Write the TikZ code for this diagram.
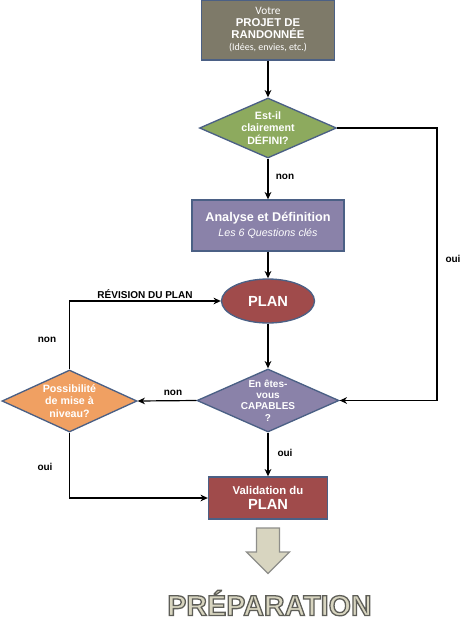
\documentclass[tikz,border=0pt]{standalone}
\usepackage{fontspec}
\setmainfont{Liberation Sans}
\newfontfamily\calibfont{Carlito}
\newfontfamily\prepfont[BoldFeatures={FakeBold=4.5}]{Liberation Sans}
\usetikzlibrary{shapes.geometric,arrows.meta}

\definecolor{projgray}{HTML}{7E7A69}
\definecolor{shapeedge}{HTML}{4B6085}
\definecolor{qgreen}{HTML}{8DAA5E}
\definecolor{qpurple}{HTML}{8A82A9}
\definecolor{planred}{HTML}{A04B4B}
\definecolor{qorange}{HTML}{F0A062}
\definecolor{prepbeige}{HTML}{D8D5C0}
\definecolor{prepedge}{HTML}{5E5E58}

\tikzset{every picture/.style={line width=0.75pt}}
\tikzset{
	block/.style={draw=shapeedge, line width=1pt, text=white, align=center, inner sep=0pt},
	decision/.style={diamond, draw=shapeedge, line width=1pt, inner sep=0pt},
	dectext/.style={text=white, align=center, font=\bfseries\fontsize{8}{9.3}\selectfont, inner sep=0pt},
	flow/.style={draw=black, line width=0.9pt, -{Stealth[length=5.5pt,width=5pt]}},
	lbl/.style={font=\bfseries\fontsize{7.5}{9}\selectfont, inner sep=0pt}
}

\begin{document}
\begin{tikzpicture}[x=0.75pt,y=0.75pt,yscale=-1,xscale=1]
	\useasboundingbox (0,0) rectangle (474,637);

	% Projet de randonnee
	\node[block, fill=projgray, minimum width=100pt, minimum height=45pt, font=\bfseries\fontsize{8.5}{9}\selectfont] (projet) at (268,30) {{\calibfont\mdseries\fontsize{8.5}{9}\selectfont Votre}\\PROJET DE\\RANDONNÉE\\{\calibfont\mdseries\fontsize{7.5}{9}\selectfont (Idées, envies, etc.)}};

	% Est-il defini
	\node[decision, fill=qgreen, minimum width=102.75pt, minimum height=45pt] (defini) at (268,128) {};
	\node[dectext] (definiT) at (defini) {Est-il\\clairement\\DÉFINI?};

	% Analyse
	\node[block, fill=qpurple, minimum width=114pt, minimum height=38.25pt, font=\bfseries\fontsize{9.5}{11}\selectfont] (analyse) at (268,225.5) {Analyse et Définition\\{\mdseries\itshape\fontsize{8}{11}\selectfont Les 6 Questions clés}};

	% Plan
	\node[ellipse, draw=shapeedge, line width=1pt, fill=planred, text=white, minimum width=69.75pt, minimum height=33pt, inner sep=0pt, font=\bfseries\fontsize{11}{12}\selectfont] (plan) at (268,301) {PLAN};

	% Capables
	\node[decision, fill=qpurple, minimum width=106.5pt, minimum height=47.25pt] (capable) at (268,400.5) {};
	\node[dectext, font=\bfseries\fontsize{7.5}{8.6}\selectfont] (capableT) at (capable) {En êtes-\\vous\\CAPABLES\\?};

	% Mise a niveau
	\node[decision, fill=qorange, minimum width=101.25pt, minimum height=46.5pt] (niveau) at (69.5,401) {};
	\node[dectext] (niveauT) at (niveau) {Possibilité\\de mise à\\niveau?};

	% Validation
	\node[block, fill=planred, minimum width=89.25pt, minimum height=31.5pt, font=\bfseries\fontsize{8.5}{11}\selectfont] (valid) at (268,498) {Validation du\\{\fontsize{11}{11}\selectfont PLAN}};

	% Connectors
	\draw[flow] (projet.south) -- (defini.north);
	\draw[flow] (defini.south) -- (analyse.north);
	\draw[flow] (analyse.south) -- (plan.north);
	\draw[flow] (plan.south) -- (capable.north);
	\coordinate (ouiTurn) at (437,128);
	\draw[flow] (defini.east) -- (ouiTurn) |- (capable.east);
	\draw[flow] (capable.west) -- (niveau.east);
	\draw[flow] (niveau.north) |- (plan.west);
	\draw[flow] (niveau.south) |- (valid.west);
	\draw[flow] (capable.south) -- (valid.north);

	% Labels
	\node[lbl] (nonDef) at (285,177) {non};
	\node[lbl] (ouiDef) at (453,259) {oui};
	\node[lbl] (revision) at (145,294) {RÉVISION DU PLAN};
	\node[lbl] (nonNiv) at (47,340) {non};
	\node[lbl] (nonCap) at (173,393) {non};
	\node[lbl] (ouiNiv) at (45,467) {oui};
	\node[lbl] (ouiCap) at (285,453) {oui};

	% Preparation
	\draw[draw=prepedge!70, fill=prepbeige, line width=1pt] (256.5,528) -- (279.5,528) -- (279.5,552) -- (289.5,552) -- (268,573.5) -- (246.5,552) -- (256.5,552) -- cycle;
	\node[inner sep=0pt, font=\prepfont\bfseries\fontsize{21.5}{22}\selectfont] (prep) at (269.5,603) {\color{prepbeige}\special{pdf:code 0.369 0.369 0.345 RG}PRÉPARATION};

\end{tikzpicture}
\end{document}
